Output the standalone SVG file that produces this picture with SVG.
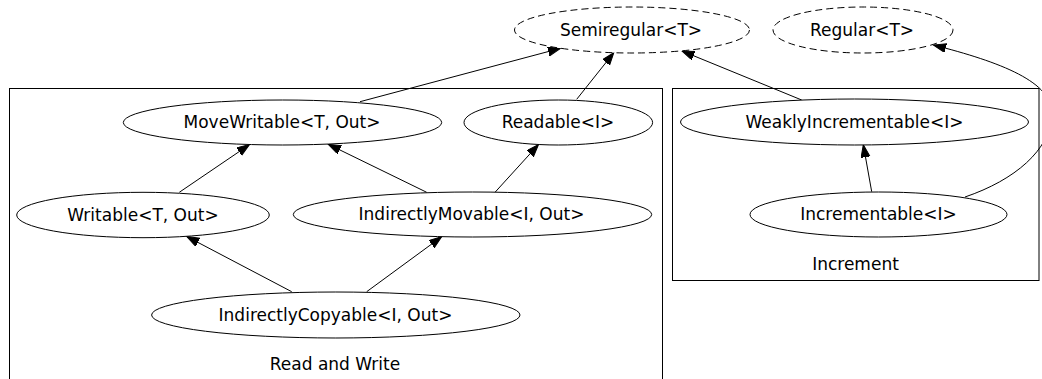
<svg xmlns="http://www.w3.org/2000/svg" width="1042" height="379" viewBox="0 0 1042 379">
  <style>
    .cluster { fill: none; stroke: #000; stroke-width: 1; }
    .node ellipse { fill: #fff; stroke: #000; stroke-width: 1; }
    .node.abstract ellipse { stroke-dasharray: 7 4; }
    text { font-family: "DejaVu Sans", "Liberation Sans", sans-serif; font-size: 17px; fill: #000; text-anchor: middle; }
    .edge { fill: none; stroke: #000; stroke-width: 1; marker-end: url(#arrow); }
  </style>
  <defs>
    <marker id="arrow" markerUnits="userSpaceOnUse" markerWidth="14" markerHeight="10" refX="12.5" refY="4.5" orient="auto">
      <path d="M0,0 L12.5,4.5 L0,9 Z" fill="#000" stroke="#000" stroke-width="1"/>
    </marker>
  </defs>
  <rect width="1042" height="379" fill="#fff"/>

  <!-- clusters -->
  <g id="cluster_read_write">
    <rect class="cluster" x="9.5" y="88.5" width="653" height="300"/>
    <text x="335" y="370">Read and Write</text>
  </g>
  <g id="cluster_increment">
    <rect class="cluster" x="672.5" y="88.5" width="366.5" height="192"/>
    <text x="855.5" y="270">Increment</text>
  </g>

  <!-- connectors -->
  <g id="edges">
    <path class="edge" d="M179.3,192.3 L249.5,144.6"/>
    <path class="edge" d="M426.7,192.3 L328.3,144.3"/>
    <path class="edge" d="M495,192.3 L538.5,144.5"/>
    <path class="edge" d="M291.7,291.7 L186.7,236.5"/>
    <path class="edge" d="M366.7,291.7 L441.7,236.7"/>
    <path class="edge" d="M360,101.7 L560.5,48.3"/>
    <path class="edge" d="M576.7,99.3 L613.8,52.7"/>
    <path class="edge" d="M801.7,100 L682,51"/>
    <path class="edge" d="M871.7,191.7 L863.3,144.8"/>
    <path class="edge" d="M965,197 C1015,180 1050,150 1052,115 C1054,82 1000,62 933.5,45"/>
  </g>

  <!-- nodes -->
  <g id="Semiregular" class="node abstract">
    <ellipse cx="632" cy="30" rx="117.5" ry="23"/>
    <text x="631" y="35.6">Semiregular&lt;T&gt;</text>
  </g>
  <g id="Regular" class="node abstract">
    <ellipse cx="863" cy="30" rx="90" ry="23"/>
    <text x="862" y="35.6">Regular&lt;T&gt;</text>
  </g>
  <g id="MoveWritable" class="node">
    <ellipse cx="282.5" cy="122.5" rx="159.2" ry="22.5"/>
    <text x="282" y="128.1">MoveWritable&lt;T, Out&gt;</text>
  </g>
  <g id="Readable" class="node">
    <ellipse cx="558.3" cy="122.5" rx="94.3" ry="22.5"/>
    <text x="558" y="128.1">Readable&lt;I&gt;</text>
  </g>
  <g id="Writable" class="node">
    <ellipse cx="143" cy="215" rx="126.3" ry="22.7"/>
    <text x="143" y="220.6">Writable&lt;T, Out&gt;</text>
  </g>
  <g id="IndirectlyMovable" class="node">
    <ellipse cx="472.5" cy="214.5" rx="179.2" ry="22.5"/>
    <text x="471.5" y="220.1">IndirectlyMovable&lt;I, Out&gt;</text>
  </g>
  <g id="IndirectlyCopyable" class="node">
    <ellipse cx="335.8" cy="315" rx="184.2" ry="23"/>
    <text x="335.5" y="320.6">IndirectlyCopyable&lt;I, Out&gt;</text>
  </g>
  <g id="WeaklyIncrementable" class="node">
    <ellipse cx="854.5" cy="122" rx="174" ry="23"/>
    <text x="854.5" y="127.6">WeaklyIncrementable&lt;I&gt;</text>
  </g>
  <g id="Incrementable" class="node">
    <ellipse cx="878.5" cy="214.5" rx="128.5" ry="22.5"/>
    <text x="878.5" y="220.1">Incrementable&lt;I&gt;</text>
  </g>
</svg>
